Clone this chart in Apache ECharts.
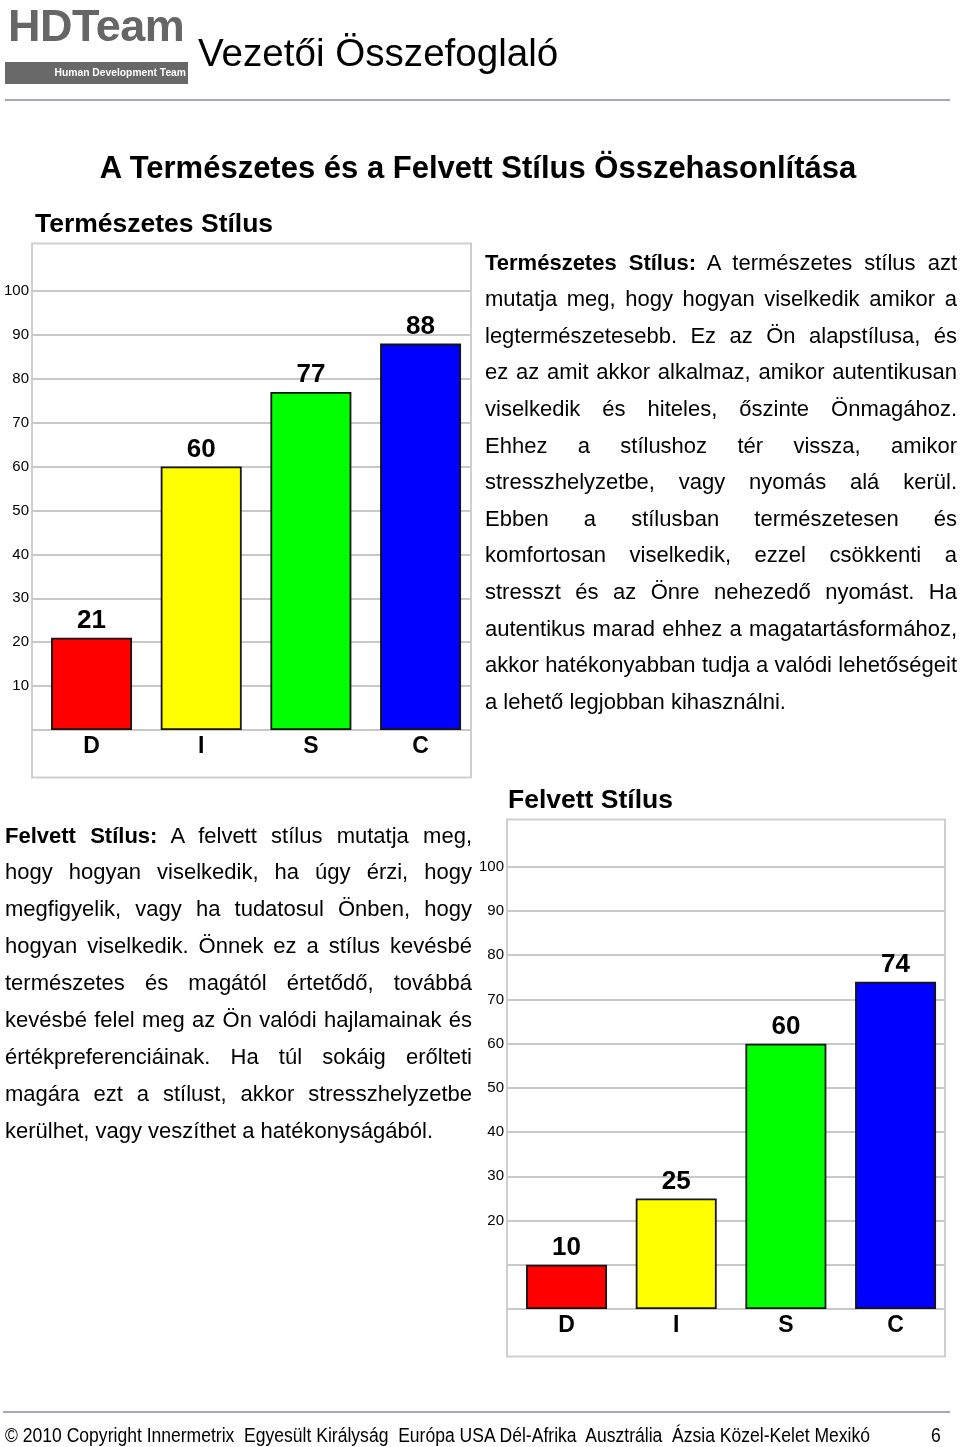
<!DOCTYPE html>
<html>
<head>
<meta charset="utf-8">
<script src="https://cdn.jsdelivr.net/npm/echarts@6/dist/echarts.min.js"></script>
<style>
  html, body { margin: 0; padding: 0; background: #fff; }
  body { width: 960px; height: 1447px; position: relative; overflow: hidden; font-family: "Liberation Sans", Arial, sans-serif; color: #000; }
  #chart { position: absolute; left: 0; top: 0; width: 960px; height: 1447px; }
  .abs { position: absolute; white-space: nowrap; }
  .jl { position: absolute; white-space: nowrap; font-size: 22px; height: 36px; line-height: 36px; text-align: justify; text-align-last: justify; }
  .jl.last { text-align: left; text-align-last: left; }
  .rule { position: absolute; height: 2px; background: #a6a6c4; }
</style>
</head>
<body>
<div id="chart"></div>

<!-- header -->
<div class="abs" style="left:8px; top:1px; font-size:45px; font-weight:bold; color:#666; line-height:50px; letter-spacing:-0.5px;">HDTeam</div>
<div class="abs" style="left:5px; top:62px; width:183px; height:22px; background:#686868;"></div>
<div class="abs" style="left:5px; top:62px; width:181px; height:22px; line-height:22px; text-align:right; font-size:10.3px; font-weight:bold; color:#fff;">Human Development Team</div>
<div class="abs" style="left:198px; top:31px; font-size:38.6px; line-height:44px;">Vezetői Összefoglaló</div>
<div class="rule" style="left:5px; width:945px; top:99px;"></div>

<div class="abs" style="left:0; width:956px; text-align:center; top:150px; font-size:31px; font-weight:bold; line-height:36px;">A Természetes és a Felvett Stílus Összehasonlítása</div>

<div id="para1"></div>
<div id="para2"></div>

<!-- footer -->
<div class="rule" style="left:3px; width:947px; top:1411px;"></div>
<div id="footer" class="abs" style="left:5px; top:1424px; font-size:20px; line-height:22px; white-space:pre; transform-origin:0 0;">© 2010 Copyright Innermetrix  Egyesült Királyság  Európa USA Dél-Afrika  Ausztrália  Ázsia Közel-Kelet Mexikó</div>
<div id="pageno" class="abs" style="left:931px; top:1424px; font-size:20px; line-height:22px; transform-origin:0 0;">6</div>

<script>
// ---------- data ----------
const categories = ['D', 'I', 'S', 'C'];
const naturalValues = [21, 60, 77, 88];
const adaptedValues = [10, 25, 60, 74];
const barColors = ['#ff0000', '#ffff00', '#00ff00', '#0000ff'];
const naturalTickLabels = [10, 20, 30, 40, 50, 60, 70, 80, 90, 100];
const adaptedTickLabels = [20, 30, 40, 50, 60, 70, 80, 90, 100];
const naturalTitle = 'Természetes Stílus';
const adaptedTitle = 'Felvett Stílus';

const para1Lines = [
  '<b>Természetes Stílus:</b> A természetes stílus azt',
  'mutatja meg, hogy hogyan viselkedik amikor a',
  'legtermészetesebb. Ez az Ön alapstílusa, és',
  'ez az amit akkor alkalmaz, amikor autentikusan',
  'viselkedik és hiteles, őszinte Önmagához.',
  'Ehhez a stílushoz tér vissza, amikor',
  'stresszhelyzetbe, vagy nyomás alá kerül.',
  'Ebben a stílusban természetesen és',
  'komfortosan viselkedik, ezzel csökkenti a',
  'stresszt és az Önre nehezedő nyomást. Ha',
  'autentikus marad ehhez a magatartásformához,',
  'akkor hatékonyabban tudja a valódi lehetőségeit',
  'a lehető legjobban kihasználni.'
];
const para2Lines = [
  '<b>Felvett Stílus:</b> A felvett stílus mutatja meg,',
  'hogy hogyan viselkedik, ha úgy érzi, hogy',
  'megfigyelik, vagy ha tudatosul Önben, hogy',
  'hogyan viselkedik. Önnek ez a stílus kevésbé',
  'természetes és magától értetődő, továbbá',
  'kevésbé felel meg az Ön valódi hajlamainak és',
  'értékpreferenciáinak. Ha túl sokáig erőlteti',
  'magára ezt a stílust, akkor stresszhelyzetbe',
  'kerülhet, vagy veszíthet a hatékonyságából.'
];

function layoutPara(id, lines, left, width, firstCenter, step) {
  const host = document.getElementById(id);
  lines.forEach((t, i) => {
    const d = document.createElement('div');
    d.className = 'jl' + (i === lines.length - 1 ? ' last' : '');
    d.style.left = left + 'px';
    d.style.width = width + 'px';
    d.style.top = (firstCenter + i * step - 18) + 'px';
    d.innerHTML = t;
    host.appendChild(d);
  });
}
layoutPara('para1', para1Lines, 485, 472, 262.5, 36.6);
layoutPara('para2', para2Lines, 5, 467, 835.5, 36.9);

// condensed footer (narrow face is not installed; squeeze the regular face)
(function () {
  const f = document.getElementById('footer');
  const w = f.getBoundingClientRect().width;
  const s = 865 / w;
  f.style.transform = 'scaleX(' + s + ')';
  document.getElementById('pageno').style.transform = 'scaleX(' + s + ')';
})();

// ---------- chart ----------
const FONT = '"Liberation Sans", Arial, sans-serif';
const chart = echarts.init(document.getElementById('chart'), null, { renderer: 'canvas' });

function gridAxisY(gridIndex, tickLabels) {
  return {
    type: 'value', gridIndex, min: 0, max: 110, interval: 10,
    axisLine: { show: false }, axisTick: { show: false },
    splitLine: { show: true, showMaxLine: false, showMinLine: true, lineStyle: { color: '#c9c9c9', width: 2 } },
    axisLabel: {
      margin: 3, fontSize: 15, color: '#000', fontFamily: FONT,
      formatter: v => (tickLabels.indexOf(v) >= 0 ? String(v) : '')
    }
  };
}
function barAxisY(gridIndex) {
  return { type: 'value', gridIndex, min: 0, max: 110, interval: 10, show: false, splitLine: { show: false } };
}
function barAxisX(gridIndex) {
  return {
    type: 'category', gridIndex, data: categories,
    axisLine: { show: false }, axisTick: { show: false },
    axisLabel: { margin: 5, fontSize: 23, fontWeight: 'bold', color: '#000', fontFamily: FONT }
  };
}
function hiddenX(gridIndex) {
  return { type: 'category', gridIndex, data: categories, show: false };
}
function barSeries(idx, values) {
  return {
    type: 'bar', xAxisIndex: idx, yAxisIndex: idx, barWidth: 81,
    data: values.map((v, i) => ({ value: v, itemStyle: { color: barColors[i] } })),
    itemStyle: { borderColor: '#151515', borderWidth: 1.8 },
    label: { show: true, position: 'top', distance: 4, fontSize: 26, fontWeight: 'bold', color: '#000', fontFamily: FONT },
    silent: true, animation: false
  };
}

chart.setOption({
  animation: false,
  title: [
    { text: naturalTitle, left: 35, top: 211, padding: 0, textStyle: { fontSize: 26.5, fontWeight: 'bold', color: '#000', fontFamily: FONT } },
    { text: adaptedTitle, left: 508, top: 787, padding: 0, textStyle: { fontSize: 26.5, fontWeight: 'bold', color: '#000', fontFamily: FONT } }
  ],
  grid: [
    { left: 32, top: 247, width: 439, height: 483 },
    { left: 36.7, top: 247, width: 438.7, height: 483 },
    { left: 507, top: 822.5, width: 438, height: 486.5 },
    { left: 511.7, top: 822.5, width: 438.7, height: 486.5 }
  ],
  xAxis: [hiddenX(0), barAxisX(1), hiddenX(2), barAxisX(3)],
  yAxis: [gridAxisY(0, naturalTickLabels), barAxisY(1), gridAxisY(2, adaptedTickLabels), barAxisY(3)],
  series: [barSeries(1, naturalValues), barSeries(3, adaptedValues)],
  graphic: [
    { type: 'rect', shape: { x: 32, y: 243.5, width: 439, height: 534 }, style: { fill: 'none', stroke: '#cfcfcf', lineWidth: 2 }, z: -1, silent: true },
    { type: 'rect', shape: { x: 507, y: 819.5, width: 438, height: 537 }, style: { fill: 'none', stroke: '#cfcfcf', lineWidth: 2 }, z: -1, silent: true }
  ]
});
</script>
</body>
</html>
